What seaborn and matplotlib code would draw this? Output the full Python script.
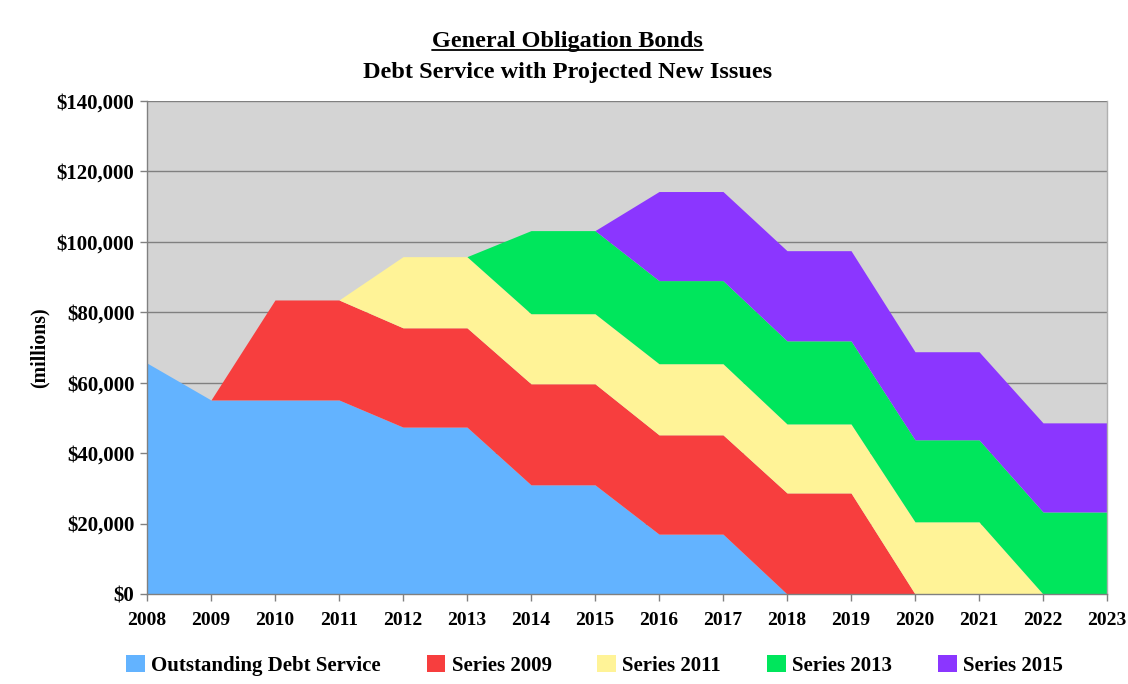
import numpy as np
import seaborn as sns
import matplotlib.pyplot as plt
from matplotlib.lines import Line2D
from matplotlib.patches import Patch
from matplotlib.ticker import FuncFormatter, MultipleLocator

# Data
years = list(range(2008, 2024))
outstanding = [65600, 55100, 55100, 55100, 47400, 47400, 31000, 31000,
               17000, 17000, 0, 0, 0, 0, 0, 0]
series_2009 = [0, 0, 28400, 28400, 28200, 28200, 28700, 28700,
               28200, 28200, 28700, 28700, 0, 0, 0, 0]
series_2011 = [0, 0, 0, 0, 20200, 20200, 19900, 19900,
               20200, 20200, 19600, 19600, 20500, 20500, 0, 0]
series_2013 = [0, 0, 0, 0, 0, 0, 23600, 23600,
               23600, 23600, 23600, 23600, 23300, 23300, 23300, 23300]
series_2015 = [0, 0, 0, 0, 0, 0, 0, 0,
               25300, 25300, 25600, 25600, 25000, 25000, 25300, 25300]

labels = ["Outstanding Debt Service", "Series 2009", "Series 2011",
          "Series 2013", "Series 2015"]
colors = ["#63b3ff", "#f73e3e", "#fff397", "#00e65c", "#8b36ff"]

sns.set_theme(style="ticks")
plt.rcParams['font.family'] = ['Liberation Serif', 'DejaVu Serif']
plt.rcParams['font.weight'] = 'bold'
plt.rcParams['text.color'] = 'black'

fig = plt.figure(figsize=(11.28, 6.84), dpi=100)
ax = fig.add_axes([0.1303, 0.1316, 0.8511, 0.7207])
ax.set_facecolor("#d4d4d4")

ax.stackplot(years, outstanding, series_2009, series_2011, series_2013,
             series_2015, colors=colors, labels=labels, linewidth=0)

ax.set_xlim(2008, 2023)
ax.set_ylim(0, 140000)
ax.set_xticks(years)
ax.yaxis.set_major_locator(MultipleLocator(20000))
ax.yaxis.set_major_formatter(FuncFormatter(lambda v, p: f"${v:,.0f}"))
ax.grid(axis="y", color="#808080", linewidth=1)
ax.grid(axis="x", visible=False)
ax.set_axisbelow(True)

ax.spines["top"].set_visible(False)
for s in ["left", "bottom", "right"]:
    ax.spines[s].set_color("#808080")
    ax.spines[s].set_linewidth(1)
ax.spines["right"].set_color("#b0b0b0")

ax.tick_params(axis="both", colors="#808080", length=5, width=1,
               labelcolor="black")
ax.tick_params(axis="y", labelsize=15, pad=4)
ax.tick_params(axis="x", labelsize=14, pad=8)
for t in ax.get_xticklabels() + ax.get_yticklabels():
    t.set_fontweight("bold")

ax.set_ylabel("(millions)", fontsize=14.2, fontweight="bold", color="black")
ax.yaxis.set_label_coords(-0.101, 0.5)

# Title, first line underlined
t1 = fig.text(0.503, 0.94, "General Obligation Bonds", ha="center",
              va="center", fontsize=17.5, fontweight="bold")
fig.text(0.503, 0.894, "Debt Service with Projected New Issues",
         ha="center", va="center", fontsize=17.5, fontweight="bold")
fig.canvas.draw()
bb = t1.get_window_extent().transformed(fig.transFigure.inverted())
fig.add_artist(Line2D([bb.x0, bb.x1], [bb.y0 + 0.002, bb.y0 + 0.002],
                      transform=fig.transFigure, color="black", linewidth=1.3))

handles = [Patch(facecolor=c, edgecolor="none") for c in colors]
fig.legend(handles, labels, loc="center", bbox_to_anchor=(0.527, 0.027),
           ncol=5, frameon=False, handlelength=0.9,
           handleheight=0.9, handletextpad=0.3, columnspacing=2.2,
           prop={"weight": "bold", "size": 15})

fig.savefig("out.png", dpi=100)
